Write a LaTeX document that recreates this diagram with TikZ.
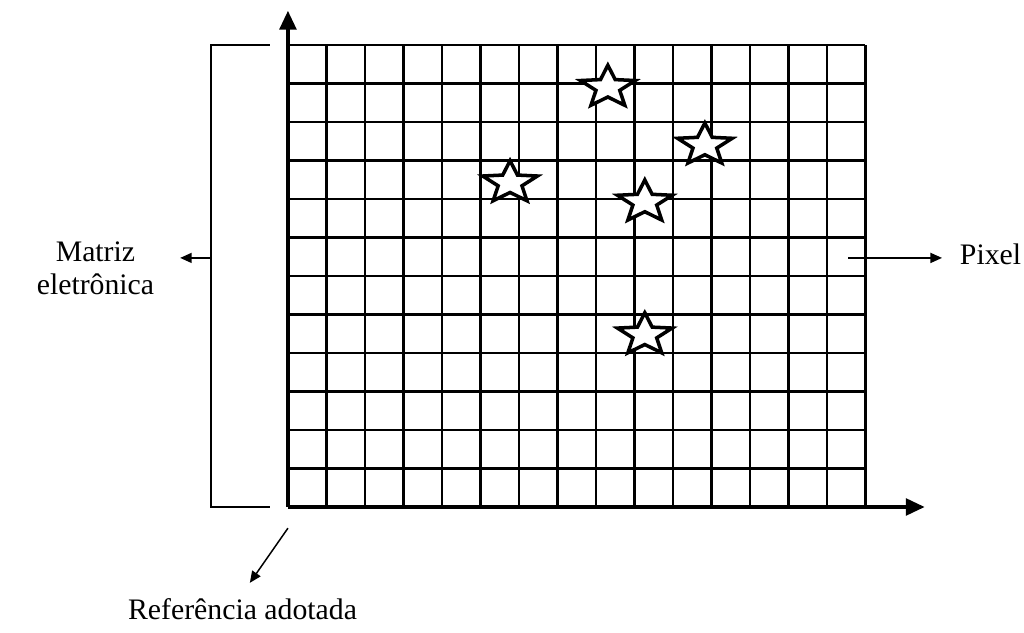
\documentclass[tikz,border=0pt]{standalone}
\usepackage{fontspec}
\setmainfont{Liberation Serif}
\usetikzlibrary{arrows.meta,shapes.geometric}

\begin{document}
\begin{tikzpicture}[
  gridline/.style={line width=1.9pt},
  axisline/.style={line width=3.6pt,-{Triangle[length=0.5cm,width=0.42cm]}},
  pointer/.style={line width=1.1pt,-{Triangle[length=0.3cm,width=0.26cm]}},
  bracketline/.style={line width=1.4pt},
  starmark/.style={star,star points=5,star point ratio=2.3,minimum size=1.15cm,
    inner sep=0pt,draw,fill=white,line width=2.6pt,xscale=1.3,transform shape},
  textlabel/.style={font=\fontsize{22}{24}\selectfont,align=center,inner sep=0pt}
]
  \useasboundingbox (-7.48,-3.25) rectangle (19.12,13.17);

  % ====================================================
  % PIXEL GRID AND AXES
  % ====================================================
  \draw[gridline] (0,0) grid (15,12);

  \coordinate (origin) at (0,0);
  \coordinate (ytip) at (0,12.9);
  \coordinate (xtip) at (16.55,0);
  \draw[axisline] (origin) -- (ytip);
  \draw[axisline] (origin) -- (xtip);

  % ====================================================
  % STARS
  % ====================================================
  \node[starmark] (star1) at (8.31,10.9) {};
  \node[starmark] (star2) at (10.83,9.4) {};
  \node[starmark] (star3) at (9.27,7.92) {};
  \node[starmark] (star4) at (5.77,8.42) {};
  \node[starmark] (star5) at (9.27,4.47) {};

  % ====================================================
  % LABELS
  % ====================================================

  % LEFT: electronic matrix bracket
  \draw[bracketline] (-0.47,12) -- (-2,12) -- (-2,0) -- (-0.47,0);
  \coordinate (brkmid) at (-2,6.47);
  \coordinate (mattip) at (-2.8,6.47);
  \draw[pointer] (brkmid) -- (mattip);
  \node[textlabel] (matriz) at (-5.0,6.2) {Matriz\\eletrônica};

  % RIGHT: pixel
  \coordinate (pixstart) at (14.55,6.47);
  \coordinate (pixtip) at (16.99,6.47);
  \draw[pointer] (pixstart) -- (pixtip);
  \node[textlabel,anchor=base west] (pixel) at (17.45,6.29) {Pixel};

  % BOTTOM: reference
  \coordinate (refstart) at (0,-0.55);
  \coordinate (reftip) at (-0.99,-1.97);
  \draw[pointer] (refstart) -- (reftip);
  \node[textlabel,anchor=base] (referencia) at (-1.18,-2.92) {Referência adotada};
\end{tikzpicture}
\end{document}
